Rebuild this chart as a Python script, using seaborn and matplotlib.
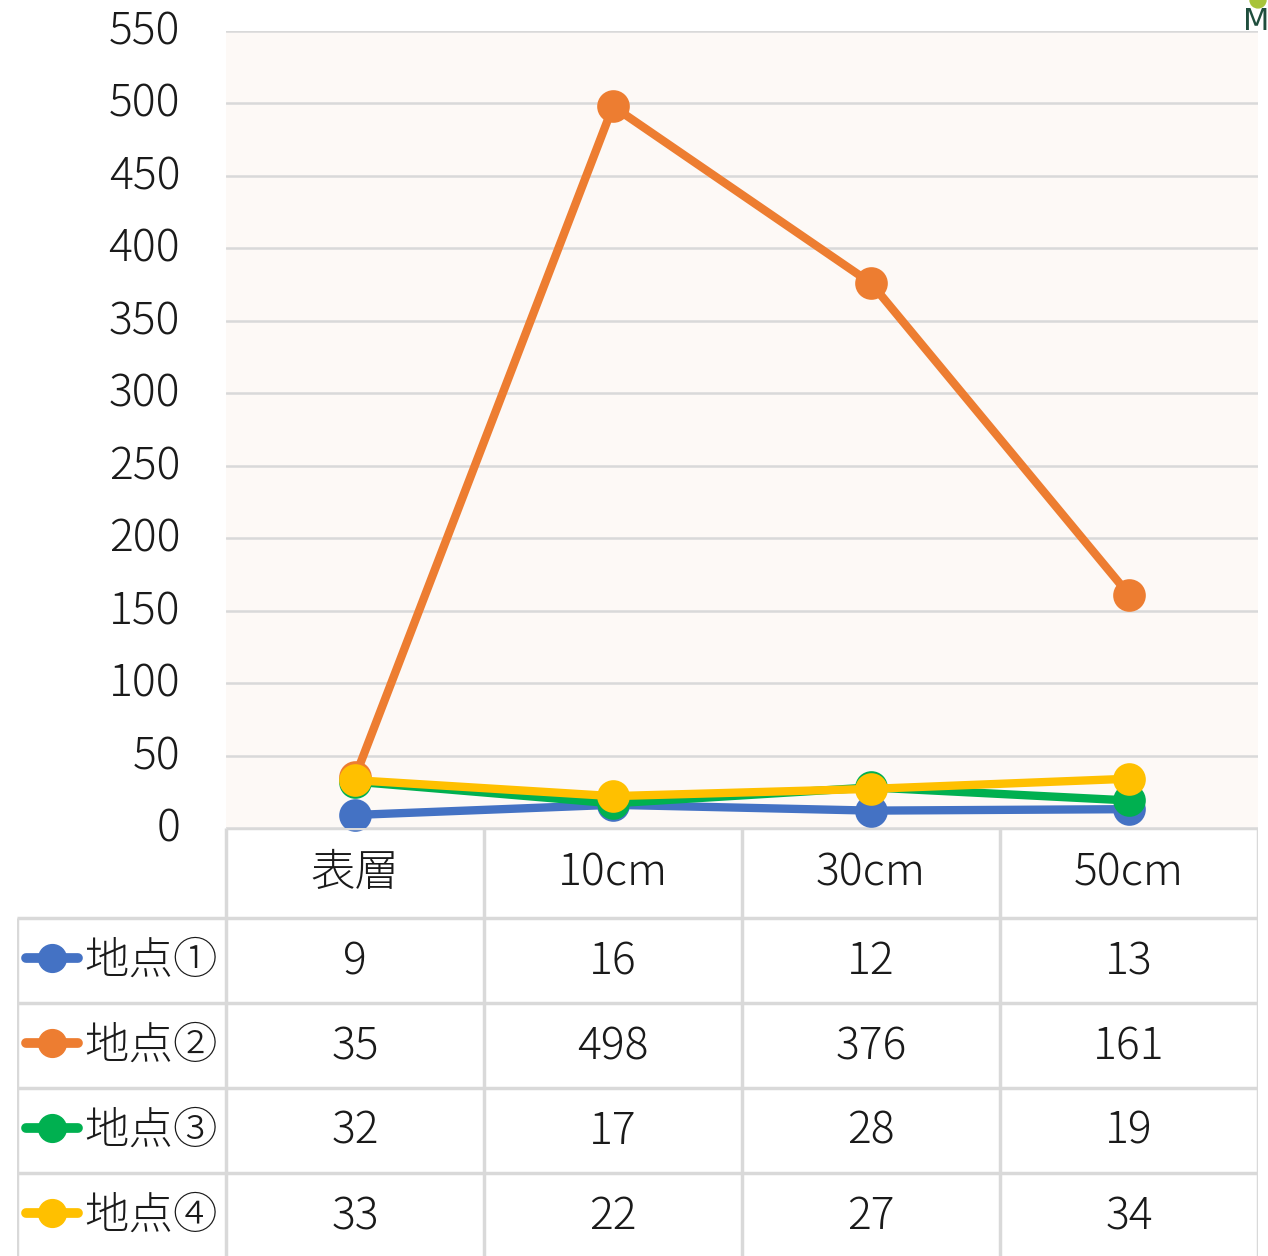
import matplotlib
matplotlib.use("Agg")
import matplotlib.pyplot as plt
import matplotlib.transforms as mtransforms
import seaborn as sns
import pandas as pd
from matplotlib.lines import Line2D

# data
depths = ["表層", "10cm", "30cm", "50cm"]
sites = ["地点①", "地点②", "地点③", "地点④"]
site1 = [9, 16, 12, 13]
site2 = [35, 498, 376, 161]
site3 = [32, 17, 28, 19]
site4 = [33, 22, 27, 34]
colors = ["#4472C4", "#ED7D31", "#00B050", "#FFC000"]

values = [site1, site2, site3, site4]
rows = []
for s, vals in zip(sites, values):
    for d, v in zip(depths, vals):
        rows.append({"depth": d, "site": s, "value": v})
df = pd.DataFrame(rows)

sns.set_theme(style="white")
plt.rcParams["font.family"] = ["Noto Sans CJK JP", "DejaVu Sans"]
plt.rcParams["font.weight"] = "light"
txt_color = "#1a1a1a"

W, H = 1268, 1256
fig = plt.figure(figsize=(W / 100, H / 100), dpi=100)
fig.patch.set_facecolor("white")

# main chart area (pixel box: x 226-1258, y 31-828)
ax = fig.add_axes([226 / W, 1 - 828 / H, 1032 / W, (828 - 31) / H])
ax.set_facecolor("#FDF9F6")
sns.pointplot(data=df, x="depth", y="value", hue="site", hue_order=sites,
              order=depths, palette=colors, markers="o", linestyles="-",
              errorbar=None, dodge=False, legend=False, ax=ax,
              markersize=19, linewidth=6)
for ln in ax.lines:
    ln.set_clip_on(False)
ax.set_xlim(-0.5, len(depths) - 0.5)
ax.set_ylim(0, 550)
ax.set_yticks(range(0, 551, 50))
ax.yaxis.grid(True, color="#D9D9D9", lw=1.8)
ax.set_axisbelow(True)
ax.set_xticks([])
ax.set_xlabel("")
ax.set_ylabel("")
for sp in ax.spines.values():
    sp.set_visible(False)
ax.tick_params(axis="y", length=0, pad=33, labelsize=32, labelcolor=txt_color)
shift = mtransforms.ScaledTranslation(0, 4 / 100, fig.dpi_scale_trans)
for lab in ax.get_yticklabels():
    lab.set_transform(lab.get_transform() + shift)

# data table below (pixel box: x 17-1258, y 828-1258)
left_w = 209 / 258
tb = fig.add_axes([17 / W, 1 - 1258 / H, (1258 - 17) / W, 430 / H])
tb.set_xlim(-left_w, len(depths))
tb.set_ylim(430, 0)
tb.axis("off")
grid_kw = dict(color="#D9D9D9", lw=2.5, solid_capstyle="butt")
row_edges = [0, 90, 175, 260, 345, 430]
for i in range(len(depths) + 1):
    tb.plot([i, i], [0, 430], **grid_kw)
tb.plot([-left_w, -left_w], [90, 430], **grid_kw)
tb.plot([0, len(depths)], [0, 0], **grid_kw)
for y in row_edges[1:-1]:
    tb.plot([-left_w, len(depths)], [y, y], **grid_kw)

for j, d in enumerate(depths):
    tb.text(j + 0.5, 45, d, ha="center", va="center", fontsize=32, color=txt_color)

px = 1 / 258  # one pixel in column units
for i, (s, vals, c) in enumerate(zip(sites, values, colors)):
    yc = (row_edges[i + 1] + row_edges[i + 2]) / 2 - 3
    tb.add_line(Line2D([-left_w + 9 * px, -left_w + 61 * px], [yc, yc], color=c,
                       lw=7, solid_capstyle="round"))
    tb.plot([-left_w + 35 * px], [yc], marker="o", color=c, markersize=20)
    tb.text(-left_w + 67 * px, yc + 4, s, ha="left", va="center", fontsize=32,
            color=txt_color)
    for j, v in enumerate(vals):
        tb.text(j + 0.5, yc + 4, str(v), ha="center", va="center", fontsize=32,
                color=txt_color)

# small logo in the corner
fig.text(1256 / W, 1 - 22 / H, "M", ha="center", va="center", fontsize=22,
         fontweight="normal", color="#1F4E3D", family="DejaVu Sans")
fig.patches.append(plt.Circle((1258 / W, 1 - 0 / H), 8 / W, color="#A8C43A",
                              transform=fig.transFigure, figure=fig))

fig.savefig("out.png", dpi=100)
